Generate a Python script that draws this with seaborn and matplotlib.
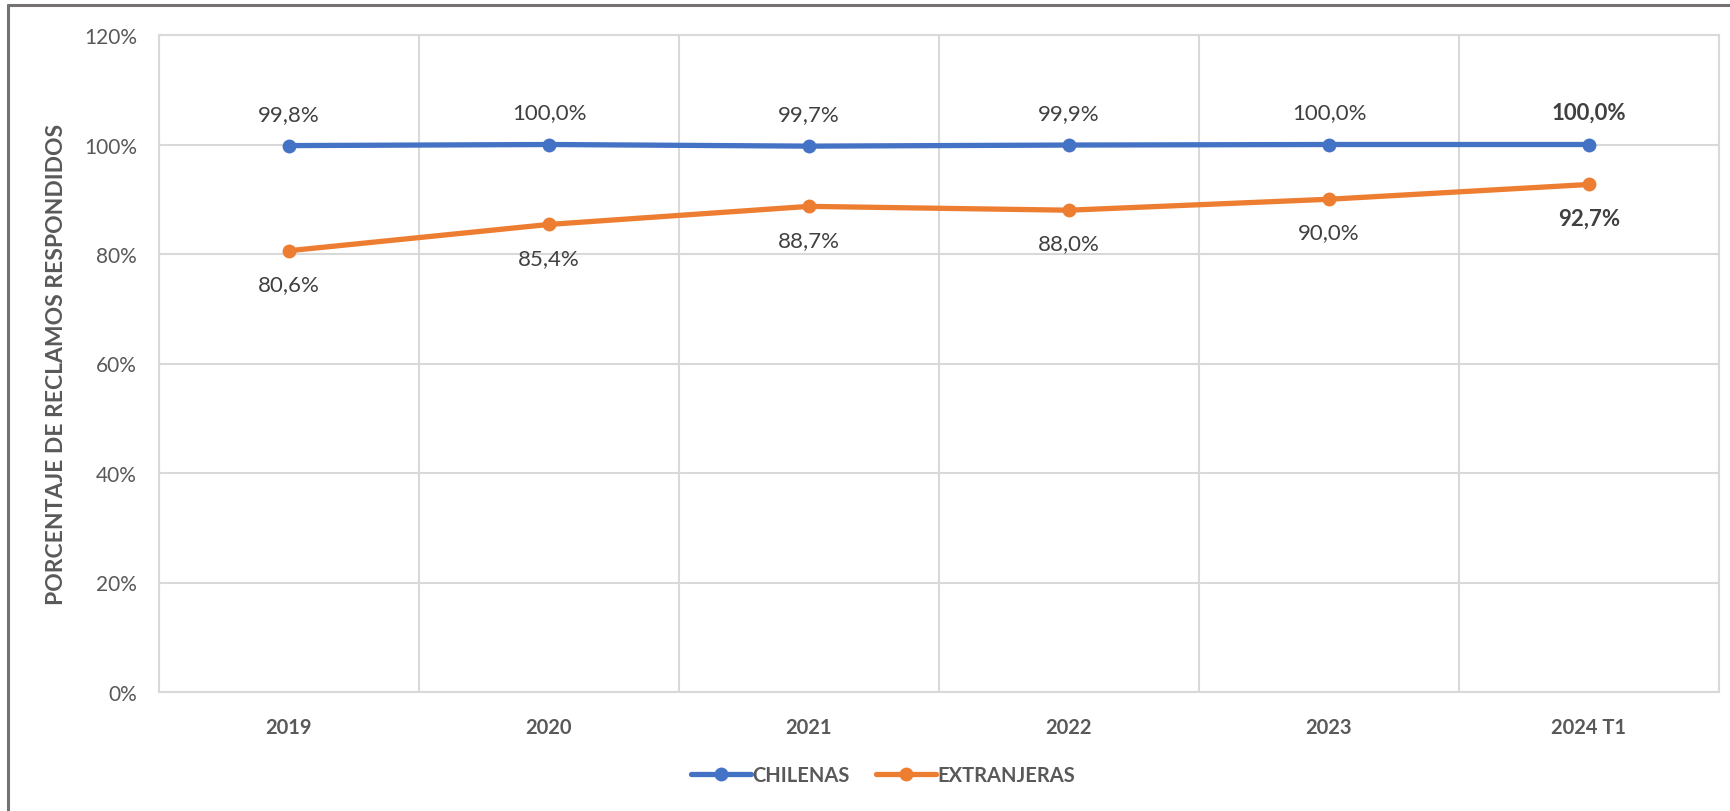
import matplotlib
matplotlib.use("Agg")
import matplotlib.pyplot as plt
import seaborn as sns
import pandas as pd
from matplotlib.lines import Line2D
from matplotlib.ticker import FixedLocator, FuncFormatter

years = ["2019", "2020", "2021", "2022", "2023", "2024 T1"]
chilenas = [99.8, 100.0, 99.7, 99.9, 100.0, 100.0]
extranjeras = [80.6, 85.4, 88.7, 88.0, 90.0, 92.7]
series_names = ["CHILENAS", "EXTRANJERAS"]
colors = ["#4472C4", "#ED7D31"]
yticks = [0, 20, 40, 60, 80, 100, 120]

sns.set_theme(style="white")
plt.rcParams["font.family"] = ["Lato", "DejaVu Sans"]

df = pd.DataFrame({
    "year": years * 2,
    "value": chilenas + extranjeras,
    "serie": [series_names[0]] * len(years) + [series_names[1]] * len(years),
})

fig = plt.figure(figsize=(17.31, 8.12), dpi=100)
ax = fig.add_axes([159 / 1731, 1 - 693 / 812, 1560 / 1731, 657 / 812])

sns.lineplot(data=df, x="year", y="value", hue="serie", palette=colors,
             marker="o", markersize=10, markeredgewidth=0, linewidth=3.8,
             ax=ax, legend=False, sort=False)

ax.set_xlim(-0.5, len(years) - 0.5)
ax.set_ylim(0, 120)
ax.yaxis.set_major_locator(FixedLocator(yticks))
ax.yaxis.set_major_formatter(FuncFormatter(lambda v, p: f"{int(v)}%"))
ax.set_xticks(range(len(years)))
ax.set_xticklabels(years)
ax.xaxis.set_minor_locator(FixedLocator([i - 0.5 for i in range(len(years) + 1)]))

grid_c = "#D9D9D9"
ax.grid(True, axis="y", which="major", color=grid_c, linewidth=1.5)
ax.grid(True, axis="x", which="minor", color=grid_c, linewidth=1.5)
ax.grid(False, axis="x", which="major")
for s in ax.spines.values():
    s.set_color(grid_c)
    s.set_linewidth(1.5)
ax.tick_params(axis="both", which="both", length=0)
ax.tick_params(axis="y", pad=16, labelsize=15, labelcolor="#595959")
ax.tick_params(axis="x", pad=18, labelsize=14.5, labelcolor="#595959")
for t in ax.get_xticklabels():
    t.set_fontweight("bold")

ax.set_xlabel("")
ax.set_ylabel("PORCENTAJE DE RECLAMOS RESPONDIDOS", fontsize=16.5, fontweight="bold",
              color="#595959")
ax.yaxis.set_label_coords(-(159 - 67) / 1560, 0.5)

def fmt(v):
    return f"{v:.1f}%".replace(".", ",")

n = len(years)
for i, v in enumerate(chilenas):
    ax.annotate(fmt(v), (i, v), xytext=(0, 23), textcoords="offset points",
                ha="center", va="center", fontsize=16, color="#404040",
                fontweight="bold" if i == n - 1 else "normal")
for i, v in enumerate(extranjeras):
    ax.annotate(fmt(v), (i, v), xytext=(0, -24), textcoords="offset points",
                ha="center", va="center", fontsize=16, color="#404040",
                fontweight="bold" if i == n - 1 else "normal")

handles = [Line2D([], [], color=c, marker="o", markersize=10, markeredgewidth=0,
                  linewidth=3.8) for c in colors]
leg = fig.legend(handles, series_names, loc="center", bbox_to_anchor=(883 / 1731, 1 - 776 / 812),
                 ncol=2, frameon=False, fontsize=14.5, handlelength=3.0,
                 columnspacing=1.3, handletextpad=0.05)
for t in leg.get_texts():
    t.set_color("#595959")
    t.set_fontweight("bold")

frame_c = "#767171"
fig.add_artist(Line2D([8 / 1731, 8 / 1731], [0, 1 - 6 / 812], transform=fig.transFigure,
                      color=frame_c, linewidth=2.2))
fig.add_artist(Line2D([8 / 1731, 1], [1 - 6 / 812, 1 - 6 / 812], transform=fig.transFigure,
                      color=frame_c, linewidth=2.2))

fig.savefig("out.png", dpi=100)
